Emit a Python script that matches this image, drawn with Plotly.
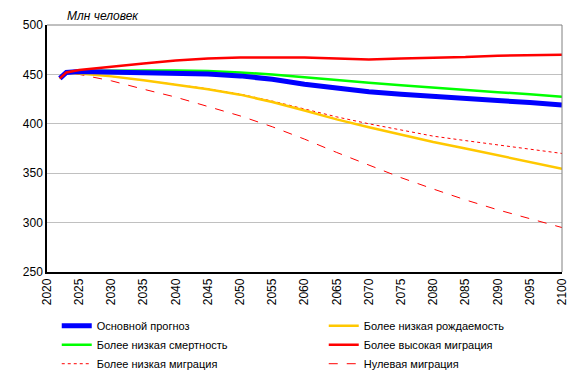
import plotly.graph_objects as go

years = [2022, 2023, 2025, 2030, 2035, 2040, 2045, 2050, 2055, 2060, 2065, 2070, 2075, 2080, 2085, 2090, 2095, 2100]

base = [446, 452, 453, 452.5, 452, 451.5, 450.5, 448.5, 445, 440, 436, 432.5, 430, 427.5, 425.5, 423.5, 421.5, 419]
low_mortality = [446, 452, 453.5, 454, 454, 454, 453.5, 452, 450, 447, 444, 441.5, 439, 436.5, 434.5, 432, 430, 427.5]
high_migration = [446, 452, 454.5, 458, 461, 464, 466, 467, 467, 467, 466, 465, 466, 466.5, 467.5, 469, 469.5, 470]
low_fertility = [446, 452, 451, 448, 444, 439.5, 435, 429.5, 422, 413.5, 404.5, 396.5, 389, 381.5, 375, 368, 361, 354.5]
low_migration = [446, 452, 451, 448, 444, 440, 435.5, 430, 423, 415, 407, 400, 393.5, 387.5, 383, 378.5, 374.5, 370]
zero_migration = [446, 452, 450, 443.5, 435, 427, 417.5, 408, 397, 384.5, 371, 358, 345.5, 334, 323, 313, 304, 295]

y_ticks = [250, 300, 350, 400, 450, 500]
x_ticks = list(range(2020, 2101, 5))

series = [
    # name, values, color, width, dash, legend rank
    ("Более низкая миграция", low_migration, "#ff0000", 1, "dot", 5),
    ("Нулевая миграция", zero_migration, "#ff0000", 1, "dash", 6),
    ("Более низкая рождаемость", low_fertility, "#ffc800", 2.5, "solid", 2),
    ("Более низкая смертность", low_mortality, "#00ff00", 2.5, "solid", 3),
    ("Основной прогноз", base, "#0000ff", 5, "solid", 1),
    ("Более высокая миграция", high_migration, "#ff0000", 2.5, "solid", 4),
]

fig = go.Figure()
for name, vals, color, width, dash, rank in series:
    fig.add_trace(go.Scatter(
        x=years, y=vals, mode="lines", name=name,
        line=dict(color=color, width=width, dash=dash),
        legendrank=rank,
    ))

font_family = "Liberation Sans, Arial, sans-serif"

# page body has an 8px margin, so the figure is sized to fit the window
fig.update_layout(
    template="none",
    width=569, height=367,
    margin=dict(l=39, r=15, t=17, b=103, autoexpand=False),
    paper_bgcolor="white", plot_bgcolor="white",
    font=dict(family=font_family, size=12, color="black"),
    showlegend=True,
    legend=dict(
        orientation="h", x=-0.0005, xref="paper", xanchor="left",
        y=-0.43, yref="paper", yanchor="bottom",
        entrywidth=212, entrywidthmode="pixels", indentation=10,
        font=dict(size=11, family=font_family),
        traceorder="normal", itemwidth=30,
        bgcolor="rgba(0,0,0,0)", borderwidth=0,
    ),
    xaxis=dict(
        range=[2020, 2100], tickmode="array", tickvals=x_ticks,
        ticktext=[str(t) for t in x_ticks], tickangle=-90,
        showgrid=False, showline=True, linecolor="black", linewidth=1.5,
        zeroline=False, ticks="", tickfont=dict(size=12), automargin=False,
    ),
    yaxis=dict(
        range=[250, 500], tickmode="array", tickvals=y_ticks,
        showgrid=True, gridcolor="#c0c0c0", gridwidth=1,
        showline=True, linecolor="black", linewidth=1.5,
        zeroline=False, ticks="", tickfont=dict(size=12), automargin=False,
    ),
    shapes=[
        dict(type="line", xref="paper", yref="paper", x0=0, x1=1, y0=1, y1=1,
             line=dict(color="#808080", width=1)),
        dict(type="line", xref="paper", yref="paper", x0=1, x1=1, y0=0, y1=1,
             line=dict(color="#808080", width=1)),
    ],
    annotations=[
        dict(text="<i>Млн человек</i>", xref="paper", yref="paper",
             x=0.035, y=1.0, xanchor="left", yanchor="bottom", yshift=0,
             showarrow=False, font=dict(size=12, family=font_family, color="black")),
    ],
)

fig.write_html("out.html")
